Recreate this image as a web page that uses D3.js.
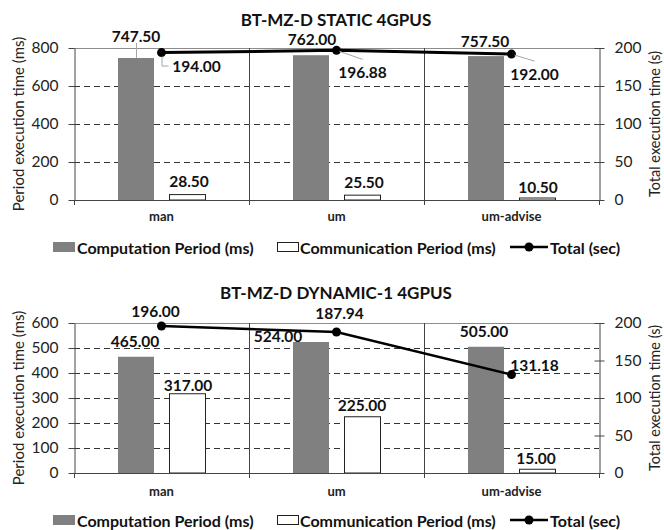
<!DOCTYPE html>
<html>
<head>
<meta charset="utf-8">
<script src="https://cdn.jsdelivr.net/npm/d3@7"></script>
<style>
  html, body { margin: 0; padding: 0; background: #fff; }
  svg { display: block; font-family: Lato, "Open Sans", sans-serif; }
</style>
</head>
<body>
<script>
// ---- data ----
const categories = ["man", "um", "um-advise"];
const seriesNames = ["Computation Period (ms)", "Communication Period (ms)", "Total (sec)"];

const staticComputation = [747.50, 762.00, 757.50];
const staticCommunication = [28.50, 25.50, 10.50];
const staticTotal = [194.00, 196.88, 192.00];

const dynamicComputation = [465.00, 524.00, 505.00];
const dynamicCommunication = [317.00, 225.00, 15.00];
const dynamicTotal = [196.00, 187.94, 131.18];

const staticPeriodTicks = [0, 200, 400, 600, 800];
const dynamicPeriodTicks = [0, 100, 200, 300, 400, 500, 600];
const totalTicks = [0, 50, 100, 150, 200];

// ---- label placement (offsets from each mark's anchor) ----
const staticLabelLayout = {
  comp:  [{dx: 0, dy: -22, leader: true}, {dx: 1, dy: -16}, {dx: -1, dy: -15}],
  comm:  [{dx: 2, dy: -14}, {dx: 2, dy: -13}, {dx: 1, dy: -11}],
  total: [{dx: 35, dy: 13, leader: "elbow"}, {dx: 26, dy: 22, leader: "line"}, {dx: 23, dy: 20, leader: "line"}]
};
const dynamicLabelLayout = {
  comp:  [{dx: -1, dy: -16}, {dx: -33, dy: -6}, {dx: -2, dy: -16}],
  comm:  [{dx: 1, dy: -9}, {dx: 0, dy: -12}, {dx: -1, dy: -11}],
  total: [{dx: -6, dy: -15}, {dx: 3, dy: -19}, {dx: 23, dy: -10}]
};

const W = 664, H = 530;
const fmt = d3.format(".2f");
const GRAY = "#808080";

const svg = d3.select("body").append("svg")
  .attr("width", W).attr("height", H).attr("viewBox", `0 0 ${W} ${H}`);
svg.append("rect").attr("width", W).attr("height", H).attr("fill", "#fff");

function drawPanel(p) {
  const g = svg.append("g");
  const left = 74, right = 599;
  const x = d3.scaleBand().domain(categories).range([left, right]);
  const inner = d3.scaleBand().domain(["comp", "comm"])
    .range([0, x.bandwidth()]).paddingInner(0.294).paddingOuter(0.863);
  const yL = d3.scaleLinear().domain([0, p.periodMax]).range([p.bottom, p.top]);
  const yR = d3.scaleLinear().domain([0, 200]).range([p.bottom, p.top]);

  // title
  g.append("text").attr("x", 336).attr("y", p.titleY)
    .attr("text-anchor", "middle").attr("dominant-baseline", "central")
    .attr("font-size", 17).attr("font-weight", 700).attr("fill", "#111")
    .text(p.title);

  // dashed gridlines
  g.append("g").selectAll("line")
    .data(p.periodTicks.filter(t => t > 0 && t < p.periodMax))
    .join("line")
    .attr("x1", left).attr("x2", right)
    .attr("y1", d => Math.round(yL(d)) + 0.5).attr("y2", d => Math.round(yL(d)) + 0.5)
    .attr("stroke", "#333").attr("stroke-width", 1).attr("stroke-dasharray", "6,4");

  // top border of the plot area
  g.append("line").attr("x1", left).attr("x2", right)
    .attr("y1", Math.round(yL(p.periodMax)) + 0.5).attr("y2", Math.round(yL(p.periodMax)) + 0.5)
    .attr("stroke", "#8c8c8c").attr("stroke-width", 1);

  // category separators with ticks below the axis
  const bounds = categories.map(c => x(c)).concat([right]);
  g.append("g").selectAll("line").data(bounds).join("line")
    .attr("x1", d => Math.round(d) + 0.5).attr("x2", d => Math.round(d) + 0.5)
    .attr("y1", (d, i) => (i === 0 || i === bounds.length - 1) ? p.bottom : yL(p.periodMax))
    .attr("y2", p.bottom + 5)
    .attr("stroke", "#444").attr("stroke-width", 1);

  // bars
  const comp = p.computation.map((v, i) => ({cat: categories[i], v, key: "comp", i}));
  const comm = p.communication.map((v, i) => ({cat: categories[i], v, key: "comm", i}));
  g.append("g").selectAll("rect").data(comp).join("rect")
    .attr("x", d => x(d.cat) + inner("comp"))
    .attr("y", d => yL(d.v))
    .attr("width", inner.bandwidth())
    .attr("height", d => yL(0) - yL(d.v))
    .attr("fill", GRAY);
  g.append("g").selectAll("rect").data(comm).join("rect")
    .attr("x", d => Math.round(x(d.cat) + inner("comm")) + 0.5)
    .attr("y", d => yL(d.v))
    .attr("width", inner.bandwidth())
    .attr("height", d => yL(0) - yL(d.v))
    .attr("fill", "#fff").attr("stroke", "#222").attr("stroke-width", 1);

  // x axis line
  g.append("line").attr("x1", left).attr("x2", right)
    .attr("y1", p.bottom + 0.5).attr("y2", p.bottom + 0.5)
    .attr("stroke", "#444").attr("stroke-width", 1);

  // left axis
  const axL = g.append("g").attr("transform", `translate(${left + 0.5},0)`)
    .call(d3.axisLeft(yL).tickValues(p.periodTicks).tickSize(6).tickSizeOuter(0).tickPadding(10));
  axL.select(".domain").attr("stroke", "#444");
  axL.selectAll(".tick line").attr("stroke", "#444");
  axL.selectAll(".tick text").attr("font-size", 15.5).attr("fill", "#222")
    .attr("font-family", "Lato, 'Open Sans', sans-serif");

  // right axis
  const axR = g.append("g").attr("transform", `translate(${right + 0.5},0)`)
    .call(d3.axisRight(yR).tickValues(totalTicks).tickSize(5).tickSizeOuter(0).tickPadding(10));
  axR.select(".domain").attr("stroke", "#444");
  axR.selectAll(".tick line").attr("stroke", "#444").attr("x1", -5);
  axR.selectAll(".tick text").attr("font-size", 15.5).attr("fill", "#222")
    .attr("font-family", "Lato, 'Open Sans', sans-serif");

  // category labels
  const axB = g.append("g").attr("transform", `translate(0,${p.bottom})`)
    .call(d3.axisBottom(x).tickSize(0).tickPadding(p.catPad));
  axB.select(".domain").remove();
  axB.selectAll(".tick text").attr("font-size", 13).attr("font-weight", 700).attr("fill", "#222")
    .attr("font-family", "Lato, 'Open Sans', sans-serif");

  // axis titles
  const midY = (p.top + p.bottom) / 2;
  g.append("text").attr("transform", `translate(18,${midY}) rotate(-90)`)
    .attr("text-anchor", "middle").attr("dominant-baseline", "central")
    .attr("font-size", 15).attr("fill", "#222").text("Period execution time (ms)");
  g.append("text").attr("transform", `translate(654,${midY}) rotate(-90)`)
    .attr("text-anchor", "middle").attr("dominant-baseline", "central")
    .attr("font-size", 14.5).attr("fill", "#222").text("Total execution time (s)");

  // total line
  const cx = c => x(c) + x.bandwidth() / 2;
  const pts = p.total.map((v, i) => ({cat: categories[i], v, i}));
  g.append("path").datum(pts)
    .attr("d", d3.line().x(d => cx(d.cat)).y(d => yR(d.v)))
    .attr("fill", "none").attr("stroke", "#000").attr("stroke-width", p.lineWidth);
  g.append("g").selectAll("circle").data(pts).join("circle")
    .attr("cx", d => cx(d.cat)).attr("cy", d => yR(d.v)).attr("r", 4.5).attr("fill", "#000");

  // value labels
  const labelG = g.append("g").attr("font-size", 15.5).attr("font-weight", 700).attr("fill", "#111");
  const leaderColor = "#a6a6a6";
  function put(lx, ly, text) {
    labelG.append("text").attr("x", lx).attr("y", ly)
      .attr("text-anchor", "middle").attr("dominant-baseline", "central").text(text);
  }
  comp.forEach(d => {
    const L = p.layout.comp[d.i];
    const bx = x(d.cat) + inner("comp") + inner.bandwidth() / 2;
    const by = yL(d.v);
    put(bx + L.dx, by + L.dy, fmt(d.v));
    if (L.leader) {
      g.append("line").attr("x1", bx + L.dx + 0.5).attr("x2", bx + L.dx + 0.5)
        .attr("y1", by + L.dy + 7).attr("y2", by)
        .attr("stroke", leaderColor).attr("stroke-width", 1);
    }
  });
  comm.forEach(d => {
    const L = p.layout.comm[d.i];
    const bx = x(d.cat) + inner("comm") + inner.bandwidth() / 2;
    put(bx + L.dx, yL(d.v) + L.dy, fmt(d.v));
  });
  pts.forEach(d => {
    const L = p.layout.total[d.i];
    const px = cx(d.cat), py = yR(d.v);
    const lx = px + L.dx, ly = py + L.dy;
    if (L.leader === "elbow") {
      g.append("path")
        .attr("d", `M${px + 0.5},${py + 4} V${ly + 0.5} H${lx - 28}`)
        .attr("fill", "none").attr("stroke", leaderColor).attr("stroke-width", 1);
    } else if (L.leader === "line") {
      g.append("line").attr("x1", px + 3).attr("y1", py + 1)
        .attr("x2", lx).attr("y2", ly - 13)
        .attr("stroke", leaderColor).attr("stroke-width", 1);
    }
    put(lx, ly, fmt(d.v));
  });

  // legend
  const lg = g.append("g").attr("font-size", 16).attr("font-weight", 700).attr("fill", "#111");
  const ly = p.legendY;
  lg.append("rect").attr("x", 53).attr("y", ly - 5).attr("width", 22).attr("height", 10).attr("fill", GRAY);
  lg.append("text").attr("x", 77).attr("y", ly).attr("dominant-baseline", "central").text(seriesNames[0]);
  lg.append("rect").attr("x", 277.5).attr("y", ly - 4.5).attr("width", 21).attr("height", 9)
    .attr("fill", "#fff").attr("stroke", "#222").attr("stroke-width", 1);
  lg.append("text").attr("x", 300).attr("y", ly).attr("dominant-baseline", "central").text(seriesNames[1]);
  lg.append("line").attr("x1", 510).attr("x2", 548).attr("y1", ly).attr("y2", ly)
    .attr("stroke", "#000").attr("stroke-width", 2.5);
  lg.append("circle").attr("cx", 529).attr("cy", ly).attr("r", 4.5).attr("fill", "#000");
  lg.append("text").attr("x", 550).attr("y", ly).attr("dominant-baseline", "central").text(seriesNames[2]);
}

drawPanel({
  title: "BT-MZ-D STATIC 4GPUS", titleY: 19,
  top: 48, bottom: 200, periodMax: 800, periodTicks: staticPeriodTicks,
  computation: staticComputation, communication: staticCommunication, total: staticTotal,
  layout: staticLabelLayout, lineWidth: 3, catPad: 12, legendY: 247
});
drawPanel({
  title: "BT-MZ-D DYNAMIC-1 4GPUS", titleY: 292,
  top: 323, bottom: 473, periodMax: 600, periodTicks: dynamicPeriodTicks,
  computation: dynamicComputation, communication: dynamicCommunication, total: dynamicTotal,
  layout: dynamicLabelLayout, lineWidth: 2.5, catPad: 14, legendY: 520
});
</script>
</body>
</html>
